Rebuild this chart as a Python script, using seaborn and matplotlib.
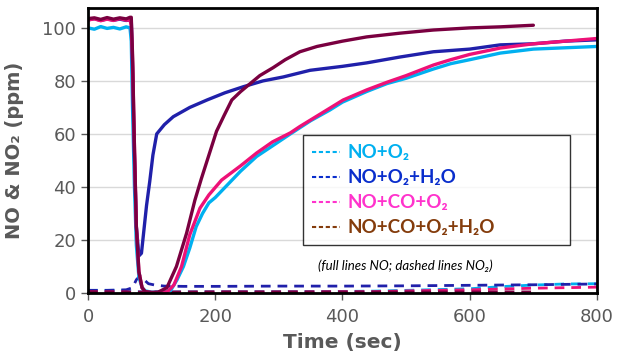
import numpy as np
import pandas as pd
import matplotlib
matplotlib.use("Agg")
import matplotlib.pyplot as plt
from matplotlib.lines import Line2D
import seaborn as sns

# NO (full lines)
t_no_o2 = [0, 10, 20, 30, 40, 50, 60, 66, 68, 70, 73, 76, 80, 85, 90, 100, 110, 120, 130, 140, 150,
           160, 170, 180, 190, 200, 220, 240, 265, 290, 318, 350, 380, 400, 438, 470, 500, 543,
           570, 600, 648, 700, 750, 800]
no_o2 = [100, 99.5, 100.5, 99.8, 100.2, 99.6, 100.4, 100, 95, 70, 40, 18, 6, 2, 0.8, 0.3, 0.3, 0.5,
         1, 5, 10, 17, 25, 30, 34, 36, 41, 46, 51.5, 55.5, 60, 65, 69, 72, 76, 79, 81, 84.5,
         86.5, 88, 90.5, 92, 92.5, 93]

t_no_o2_h2o = [0, 10, 20, 30, 40, 50, 60, 66, 68, 70, 72, 76, 80, 84, 88, 92, 97, 102, 108, 120,
               134, 160, 187, 215, 244, 275, 307, 349, 400, 438, 490, 543, 600, 648, 700, 750, 800]
no_o2_h2o = [103, 103.5, 102.8, 103.4, 102.9, 103.3, 102.8, 103, 103, 85, 60, 25, 14, 15, 24, 33,
             42, 52, 60, 63.5, 66.5, 70, 72.8, 75.5, 77.8, 80, 81.5, 84, 85.5, 86.8, 89, 91, 92,
             93.6, 94, 95, 95.5]

t_no_co_o2 = [0, 10, 20, 30, 40, 50, 60, 66, 68, 70, 73, 76, 80, 85, 90, 100, 110, 125, 135, 147,
              160, 176, 190, 210, 240, 265, 290, 318, 333, 365, 401, 438, 470, 500, 543, 570,
              600, 648, 700, 750, 800]
no_co_o2 = [103, 103.4, 102.7, 103.3, 102.8, 103.5, 102.9, 103, 101, 88, 55, 25, 8, 2, 0.5, 0.2,
            0.2, 0.5, 3, 10, 22, 32, 37, 42.6, 48, 52.8, 57, 60.4, 62.8, 67.5, 72.8, 76.6, 79.5,
            82, 86, 88, 90, 92.4, 94, 95, 96]

t_no_co_o2_h2o = [0, 10, 20, 30, 40, 50, 60, 66, 68, 70, 73, 76, 80, 85, 90, 100, 110, 124, 139,
                  155, 168, 178, 190, 202, 214, 226, 240, 255, 270, 291, 310, 333, 360, 400, 438,
                  490, 543, 600, 648, 700]
no_co_o2_h2o = [103.5, 103.8, 103.2, 103.9, 103.3, 103.8, 103.4, 104, 104, 90, 55, 25, 8, 2, 0.5,
                0.2, 0.3, 2, 10, 22.6, 35, 43, 52, 61, 67, 72.8, 76, 79, 82, 85, 88, 91, 93, 95,
                96.6, 98, 99.2, 100, 100.4, 101]

# NO2 (dashed lines)
t_no2_o2 = [0, 60, 68, 100, 200, 300, 400, 450, 500, 550, 600, 650, 700, 750, 800]
no2_o2 = [1, 1, 0.5, 0.4, 0.5, 0.5, 0.6, 0.7, 1, 1.3, 1.6, 2.4, 3, 3.4, 3.5]

t_no2_o2_h2o = [0, 30, 60, 70, 76, 82, 88, 95, 105, 120, 150, 200, 300, 400, 500, 600, 700, 800]
no2_o2_h2o = [1, 1, 1.2, 2, 5, 6.5, 5, 3.5, 3, 2.6, 2.5, 2.5, 2.6, 2.6, 2.7, 2.9, 3.1, 3.4]

t_no2_co_o2 = [0, 100, 200, 300, 400, 450, 500, 550, 600, 650, 700, 750, 800]
no2_co_o2 = [0.5, 0.3, 0.4, 0.4, 0.5, 0.5, 0.8, 1, 1.2, 1.5, 1.8, 2, 2.2]

t_no2_co_o2_h2o = [0, 100, 200, 300, 400, 500, 600, 700]
no2_co_o2_h2o = [0.5, 0.3, 0.4, 0.4, 0.4, 0.4, 0.4, 0.4]

labels = ["NO+O₂", "NO+O₂+H₂O", "NO+CO+O₂", "NO+CO+O₂+H₂O"]
line_colors = ["#00B0F0", "#2020AA", "#EE1177", "#7A0040"]
text_colors = ["#00B0F0", "#0A2ECC", "#FF33CC", "#843C0C"]

no_series = [(t_no_o2, no_o2), (t_no_o2_h2o, no_o2_h2o),
             (t_no_co_o2, no_co_o2), (t_no_co_o2_h2o, no_co_o2_h2o)]
no2_series = [(t_no2_o2, no2_o2), (t_no2_o2_h2o, no2_o2_h2o),
              (t_no2_co_o2, no2_co_o2), (t_no2_co_o2_h2o, no2_co_o2_h2o)]

sns.set_style("white")
plt.rcParams['font.family'] = ['DejaVu Sans']

fig = plt.figure(figsize=(6.18, 3.56), dpi=100)
ax = fig.add_axes([0.1424, 0.177, 0.8236, 0.8005])

ax.grid(axis='y', color='#D9D9D9', linewidth=1)
ax.set_axisbelow(True)

# dashed NO2 lines first
for (t, v), c in zip(no2_series, line_colors):
    sns.lineplot(x=t, y=v, ax=ax, color=c, linewidth=2, linestyle=(0, (3.5, 2.5)), legend=False)

# full NO lines
for (t, v), c in zip(no_series, line_colors):
    sns.lineplot(x=t, y=v, ax=ax, color=c, linewidth=2.4, legend=False)

ax.set_xlim(0, 800)
ax.set_ylim(0, 107.5)
ax.set_xticks([0, 200, 400, 600, 800])
ax.set_yticks([0, 20, 40, 60, 80, 100])

for s in ax.spines.values():
    s.set_visible(True)
    s.set_color('black')
    s.set_linewidth(2)

ax.tick_params(axis='both', colors='#595959', labelsize=13, length=5, width=1,
               direction='out', bottom=True, left=True)
ax.tick_params(axis='x', pad=6)
for lab in ax.get_xticklabels() + ax.get_yticklabels():
    lab.set_color('#595959')

ax.set_xlabel("Time (sec)", fontsize=14.5, fontweight='bold', color='#595959', labelpad=5)
ax.set_ylabel("NO & NO₂ (ppm)", fontsize=14, fontweight='bold', color='#595959', labelpad=13)

handles = [Line2D([0], [0], color=c, linewidth=1.5, linestyle=(0, (2, 1.3))) for c in text_colors]
leg = ax.legend(handles, labels, loc='upper left', bbox_to_anchor=(0.422, 0.554, 0.525, 0.0),
                mode='expand', frameon=True, fancybox=False, edgecolor='black',
                borderaxespad=0, handlelength=1.5, handletextpad=0.4, labelspacing=0.42,
                borderpad=0.5,
                prop={'family': ['Lato', 'DejaVu Sans'], 'weight': 'bold', 'size': 13.5})
leg.get_frame().set_linewidth(1)
for txt, c in zip(leg.get_texts(), text_colors):
    txt.set_color(c)

ax.text(0.623, 0.095, "(full lines NO; dashed lines NO₂)", transform=ax.transAxes,
        ha='center', va='center', fontsize=9.5, style='italic', color='black',
        family=['Lato', 'DejaVu Sans'])

fig.savefig("out.png", dpi=100)
